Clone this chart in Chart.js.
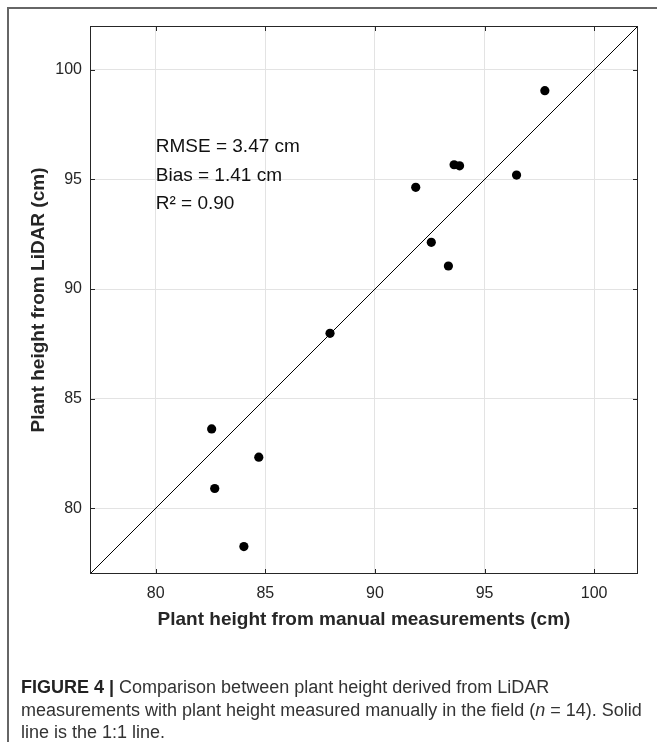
<!DOCTYPE html>
<html>
<head>
<meta charset="utf-8">
<script src="https://cdn.jsdelivr.net/npm/chart.js@4/dist/chart.umd.min.js"></script>
<style>
  html, body { margin: 0; padding: 0; background: #fff; }
  #wrap { position: relative; width: 657px; height: 742px; overflow: hidden; }
  #frame { position: absolute; left: 7px; top: 7px; width: 700px; height: 760px;
           border-top: 2px solid #666; border-left: 2px solid #666; }
  #chart { position: absolute; left: 0; top: 0; }
  #caption { position: absolute; left: 21px; top: 676px; width: 636px;
             font-family: "Liberation Sans", Arial, sans-serif; font-size: 18px;
             line-height: 22.5px; color: #333; white-space: nowrap; }
  #caption b { font-weight: bold; color: #222; }
</style>
</head>
<body>
<div id="wrap">
  <div id="frame"></div>
  <canvas id="chart" width="657" height="742"></canvas>
  <div id="caption"><b>FIGURE 4 |</b> Comparison between plant height derived from LiDAR<br>measurements with plant height measured manually in the field (<i>n</i> = 14). Solid<br>line is the 1:1 line.</div>
</div>
<script>
const xTicks = [80, 85, 90, 95, 100];
const yTicks = [80, 85, 90, 95, 100];

// manual (x) vs LiDAR (y)
const manual = [97.75, 93.61, 93.86, 96.46, 91.86, 92.57, 93.35, 87.95, 82.55, 84.70, 82.69, 84.02];
const lidar = [99.05, 95.67, 95.62, 95.20, 94.64, 92.13, 91.05, 87.98, 83.62, 82.33, 80.90, 78.25];

const oneToOne = [77, 102];
const statLines = ["RMSE = 3.47 cm", "Bias = 1.41 cm", "R\u00b2 = 0.90"];

const FONT = "'Liberation Sans', Arial, Helvetica, sans-serif";
const INK = "#262626";

const points = manual.map((v, i) => ({ x: v, y: lidar[i] }));
const line = oneToOne.map(v => ({ x: v, y: v }));

// box on all four sides with inward ticks, plus the stats text
const boxPlugin = {
  id: "boxPlugin",
  afterDatasetsDraw(chart) {
    const { ctx, chartArea: a, scales } = chart;
    ctx.save();
    ctx.strokeStyle = INK;
    ctx.lineWidth = 1;
    ctx.strokeRect(a.left + 0.5, a.top + 0.5, a.right - a.left - 1, a.bottom - a.top - 1);
    ctx.beginPath();
    xTicks.forEach(v => {
      const px = Math.round(scales.x.getPixelForValue(v)) + 0.5;
      ctx.moveTo(px, a.bottom); ctx.lineTo(px, a.bottom - 5);
      ctx.moveTo(px, a.top); ctx.lineTo(px, a.top + 5);
    });
    yTicks.forEach(v => {
      const py = Math.round(scales.y.getPixelForValue(v)) + 0.5;
      ctx.moveTo(a.left, py); ctx.lineTo(a.left + 5, py);
      ctx.moveTo(a.right, py); ctx.lineTo(a.right - 5, py);
    });
    ctx.stroke();

    ctx.fillStyle = "#111";
    ctx.font = "19px " + FONT;
    ctx.textBaseline = "middle";
    ctx.textAlign = "left";
    const tx = scales.x.getPixelForValue(80);
    statLines.forEach((t, i) => {
      ctx.fillText(t, tx, a.top + 121 + i * 28.5);
    });
    ctx.restore();
  }
};

new Chart(document.getElementById("chart"), {
  type: "scatter",
  data: {
    datasets: [
      {
        data: points,
        pointRadius: 4.6,
        pointBackgroundColor: "#000",
        pointBorderWidth: 0,
        showLine: false
      },
      {
        data: line,
        showLine: true,
        borderColor: "#000",
        borderWidth: 1,
        pointRadius: 0
      }
    ]
  },
  options: {
    responsive: false,
    animation: false,
    layout: { padding: { left: 0, top: 26, right: 19, bottom: 108 } },
    plugins: { legend: { display: false }, tooltip: { enabled: false } },
    scales: {
      x: {
        type: "linear",
        min: 77,
        max: 102,
        afterBuildTicks: s => { s.ticks = xTicks.map(v => ({ value: v })); },
        afterFit: s => { s.height = 60; },
        grid: { color: "#e3e3e3", drawTicks: false },
        border: { display: false },
        ticks: { padding: 10, color: INK, font: { family: FONT, size: 16 } },
        title: {
          display: true,
          text: "Plant height from manual measurements (cm)",
          color: INK,
          font: { family: FONT, size: 19, weight: "bold" },
          padding: { top: 0, bottom: 3 }
        }
      },
      y: {
        type: "linear",
        min: 77,
        max: 102,
        afterBuildTicks: s => { s.ticks = yTicks.map(v => ({ value: v })); },
        afterFit: s => { s.width = 90; },
        grid: { color: "#e3e3e3", drawTicks: false },
        border: { display: false },
        ticks: { padding: 8, color: INK, font: { family: FONT, size: 16 } },
        title: {
          display: true,
          text: "Plant height from LiDAR (cm)",
          color: INK,
          font: { family: FONT, size: 19, weight: "bold" },
          padding: { top: 27, bottom: 0 }
        }
      }
    }
  },
  plugins: [boxPlugin]
});
</script>
</body>
</html>
